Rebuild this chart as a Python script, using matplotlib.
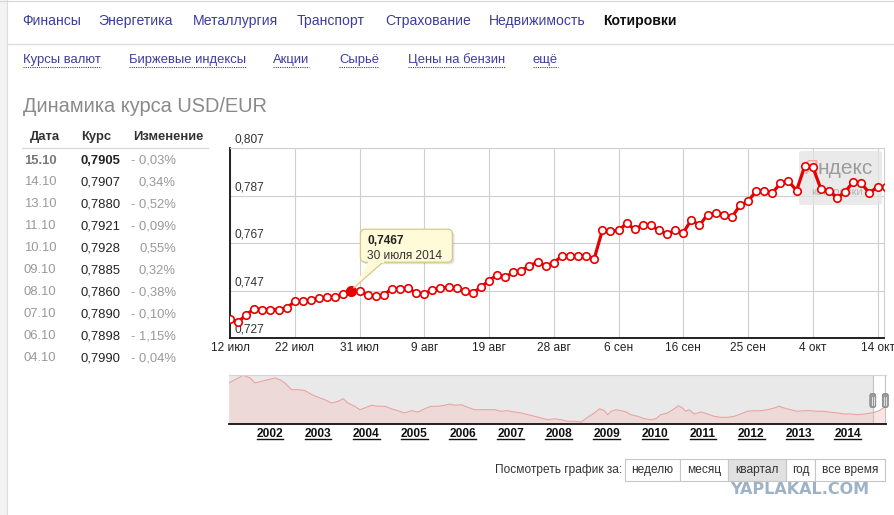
import matplotlib
matplotlib.use("Agg")
import matplotlib.pyplot as plt
import matplotlib.transforms as mtransforms
from matplotlib.patches import FancyBboxPatch, Rectangle, Polygon
from matplotlib.lines import Line2D
import numpy as np
import pandas as pd

plt.rcParams['font.family'] = ['Liberation Sans', 'DejaVu Sans']

# ---- data ----
# USD/EUR, one point per day Mon-Sat, 12 Jul 2014 .. 15 Oct 2014
usd_eur = [
    0.7351, 0.7337, 0.7368, 0.7393, 0.7390, 0.7390, 0.7390, 0.7396,
    0.7424, 0.7424, 0.7428, 0.7439, 0.7442, 0.7442, 0.7456, 0.7467,
    0.7466, 0.7449, 0.7445, 0.7452, 0.7477, 0.7477, 0.7480, 0.7459,
    0.7456, 0.7473, 0.7480, 0.7484, 0.7480, 0.7466, 0.7460, 0.7484,
    0.7512, 0.7536, 0.7526, 0.7547, 0.7554, 0.7575, 0.7589, 0.7575,
    0.7587, 0.7615, 0.7615, 0.7615, 0.7615, 0.7604, 0.7723, 0.7719,
    0.7723, 0.7753, 0.7727, 0.7747, 0.7744, 0.7723, 0.7709, 0.7723,
    0.7713, 0.7768, 0.7744, 0.7790, 0.7796, 0.7790, 0.7779, 0.7828,
    0.7846, 0.7888, 0.7888, 0.7880, 0.7922, 0.7930, 0.7891, 0.7993,
    0.7990, 0.7898, 0.7890, 0.7860, 0.7885, 0.7928, 0.7921, 0.7880,
    0.7907, 0.7905,
]
dates = pd.bdate_range('2014-07-12', '2014-10-15', freq='C',
                       weekmask='Mon Tue Wed Thu Fri Sat')
x_tick_labels = ['12 июл', '22 июл', '31 июл', '9 авг', '19 авг', '28 авг',
                 '6 сен', '16 сен', '25 сен', '4 окт', '14 окт']
y_ticks = [0.727, 0.747, 0.767, 0.787, 0.807]
highlight = 15  # 30 июля 2014

months_gen = ['января', 'февраля', 'марта', 'апреля', 'мая', 'июня', 'июля',
              'августа', 'сентября', 'октября', 'ноября', 'декабря']

# long history for the navigator strip
nav_years = [
    2001.15, 2001.27, 2001.45, 2001.59, 2001.69, 2001.83, 2001.97, 2002.10,
    2002.21, 2002.31, 2002.45, 2002.59, 2002.73, 2002.87, 2003.00, 2003.14,
    2003.28, 2003.42, 2003.52, 2003.62, 2003.76, 2003.87, 2003.97, 2004.11,
    2004.25, 2004.39, 2004.52, 2004.66, 2004.80, 2004.94, 2005.08, 2005.22,
    2005.35, 2005.49, 2005.63, 2005.73, 2005.84, 2005.98, 2006.11, 2006.25,
    2006.39, 2006.53, 2006.67, 2006.80, 2006.94, 2007.08, 2007.22, 2007.36,
    2007.50, 2007.63, 2007.77, 2007.91, 2008.05, 2008.19, 2008.33, 2008.47,
    2008.60, 2008.74, 2008.85, 2008.95, 2009.02, 2009.09, 2009.19, 2009.30,
    2009.40, 2009.50, 2009.64, 2009.78, 2009.92, 2010.02, 2010.12, 2010.26,
    2010.37, 2010.49, 2010.57, 2010.64, 2010.71, 2010.82, 2010.96, 2011.09,
    2011.23, 2011.37, 2011.51, 2011.65, 2011.78, 2011.92, 2012.06, 2012.20,
    2012.34, 2012.48, 2012.58, 2012.68, 2012.82, 2012.96, 2013.10, 2013.24,
    2013.37, 2013.51, 2013.65, 2013.79, 2013.93, 2014.07, 2014.21, 2014.35,
    2014.49, 2014.56, 2014.66, 2014.77,
]
nav_rates = [
    1.094, 1.133, 1.186, 1.154, 1.094, 1.114, 1.133, 1.154,
    1.133, 1.094, 1.014, 1.014, 1.002, 0.954, 0.923, 0.894,
    0.854, 0.875, 0.906, 0.854, 0.815, 0.774, 0.795, 0.827,
    0.815, 0.815, 0.786, 0.762, 0.735, 0.762, 0.747, 0.786,
    0.815, 0.815, 0.827, 0.842, 0.827, 0.834, 0.803, 0.774,
    0.774, 0.774, 0.774, 0.755, 0.762, 0.747, 0.735, 0.714,
    0.695, 0.675, 0.654, 0.665, 0.654, 0.635, 0.635, 0.627,
    0.683, 0.735, 0.786, 0.762, 0.714, 0.755, 0.774, 0.762,
    0.747, 0.714, 0.695, 0.666, 0.654, 0.666, 0.714, 0.735,
    0.774, 0.822, 0.795, 0.755, 0.774, 0.723, 0.747, 0.723,
    0.695, 0.683, 0.683, 0.695, 0.723, 0.755, 0.762, 0.762,
    0.774, 0.795, 0.815, 0.795, 0.774, 0.755, 0.762, 0.762,
    0.755, 0.755, 0.743, 0.735, 0.723, 0.723, 0.714, 0.723,
    0.735, 0.743, 0.762, 0.803,
]
nav_year_labels = list(range(2002, 2015))
win_start, win_end = 2014.526, 2014.786

nav_top = ['Финансы', 'Энергетика', 'Металлургия', 'Транспорт', 'Страхование',
           'Недвижимость', 'Котировки']
nav_sub = ['Курсы валют', 'Биржевые индексы', 'Акции', 'Сырьё',
           'Цены на бензин', 'ещё']
periods = ['неделю', 'месяц', 'квартал', 'год', 'все время']
active_period = 'квартал'

# ---- page layout (pixels, y from top) ----
W, H = 895, 515
fig = plt.figure(figsize=(W / 100, H / 100), dpi=100, facecolor='white')


def fx(x):
    return x / W


def fy(y):
    return 1 - y / H


def ptext(x, y, s, **kw):
    kw.setdefault('va', 'center')
    return fig.text(fx(x), fy(y), s, **kw)


def pline(x0, x1, y0, y1, **kw):
    fig.add_artist(Line2D([fx(x0), fx(x1)], [fy(y0), fy(y1)],
                          transform=fig.transFigure, **kw))


LINK = '#3d3d9e'

# left grey strip and top border
fig.add_artist(Rectangle((0, 0), fx(7), 1, transform=fig.transFigure,
                         fc='#f3f3f3', ec='none'))
pline(7, 7, 0, H, color='#dedede', lw=0.8)
pline(0, W, 0.5, 0.5, color='#d6d6d6', lw=0.8)

# top menu
top_x = [22, 98, 193, 297, 385, 489, 603]
for name, x in zip(nav_top, top_x):
    if name == 'Котировки':
        ptext(x, 21, name, fontsize=10.1, color='#111', fontweight='bold')
    else:
        ptext(x, 21, name, fontsize=10.1, color=LINK)
pline(7, W, 43.5, 43.5, color='#dcdcdc', lw=0.9)

sub_x = [23, 129, 273, 339, 408, 533]
sub_texts = [ptext(x, 59.5, s, fontsize=9.4, color=LINK)
             for s, x in zip(nav_sub, sub_x)]

ptext(23, 106.5, 'Динамика курса USD/EUR', fontsize=14.4, color='#8a8a8a')

# quotes table (last ten days, newest first)
ptext(30, 137, 'Дата', fontsize=9.4, color='#333', fontweight='bold')
ptext(81, 137, 'Курс', fontsize=9.4, color='#333', fontweight='bold')
ptext(133, 137, 'Изменение', fontsize=9.4, color='#333', fontweight='bold')
pline(22, 208, 148, 148, color='#d9d9d9', lw=0.9)
for i in range(10):
    k = len(usd_eur) - 1 - i
    rate, prev = usd_eur[k], usd_eur[k - 1]
    ch = (rate / prev - 1) * 100
    ch_txt = ('- ' if ch < 0 else '') + f'{abs(ch):.2f}%'.replace('.', ',')
    y = 160.5 + i * 21.95
    first = i == 0
    ptext(24, y, dates[k].strftime('%d.%m'), fontsize=9.4,
          color='#777' if first else '#9a9a9a',
          fontweight='bold' if first else 'normal')
    ptext(81, y, f'{rate:.4f}'.replace('.', ','), fontsize=9.4, color='#222',
          fontweight='bold' if first else 'normal')
    ptext(176, y, ch_txt, fontsize=9.4, color='#999', ha='right')

# ---- main chart ----
RED = '#e60000'
ax = fig.add_axes([fx(230), fy(338), 654 / W, 190 / H])
idx = np.arange(len(usd_eur))
ax.set_xlim(0, 80.8)
ax.set_ylim(y_ticks[0], y_ticks[-1])
ax.set_xticks(idx[::8][:len(x_tick_labels)], x_tick_labels)
ax.set_yticks(y_ticks, [''] * len(y_ticks))
ax.grid(color='#cfcfcf', lw=0.8)
ax.set_axisbelow(True)
ax.tick_params(length=0, labelsize=8.6, labelcolor='#222', pad=3)
for side in ('left', 'bottom'):
    ax.spines[side].set_color('#111')
    ax.spines[side].set_linewidth(1.3)
for side in ('top', 'right'):
    ax.spines[side].set_color('#cfcfcf')
    ax.spines[side].set_linewidth(0.8)

for v in y_ticks:
    ax.annotate(f'{v:.3f}'.replace('.', ','), xy=(0, v),
                xycoords=ax.get_yaxis_transform(), xytext=(5, 2),
                textcoords='offset pixels', ha='left', va='bottom',
                fontsize=8.6, color='#333', annotation_clip=False)

# watermark box of the quote service
ax.add_patch(FancyBboxPatch((fx(799), fy(205)), 83 / W, 54 / H,
                            boxstyle='round,pad=0,rounding_size=0.004',
                            transform=fig.transFigure, fc='#e4e4e4',
                            ec='none', alpha=0.75, zorder=1.5))
ax.text(fx(803), fy(168), 'Я', transform=fig.transFigure, fontsize=15,
        color='#f3a3a3', va='center', zorder=1.6)
ax.text(fx(818), fy(169), 'ндекс', transform=fig.transFigure, fontsize=15,
        color='#9c9c9c', va='center', zorder=1.6)
ax.text(fx(811), fy(192), 'котировки', transform=fig.transFigure,
        fontsize=8, color='#b3b3b3', va='center', zorder=1.6)

ax.plot(idx, usd_eur, color=RED, lw=2.3, marker='o', ms=5.4, mfc='white',
        mec=RED, mew=1.2, zorder=3, solid_joinstyle='round')
ax.plot(idx[highlight], usd_eur[highlight], 'o', color=RED, ms=7, zorder=4)

# tooltip
ident = mtransforms.IdentityTransform()
px, py = ax.transData.transform((idx[highlight], usd_eur[highlight]))
TIP_FC, TIP_EC = '#fffbd8', '#d4c88e'
fig.add_artist(FancyBboxPatch((px + 11, py + 27), 92, 33,
                              boxstyle='round,pad=0,rounding_size=5',
                              transform=ident, fc='#000', ec='none',
                              alpha=0.12))
fig.add_artist(FancyBboxPatch((px + 9, py + 29), 92, 33,
                              boxstyle='round,pad=0,rounding_size=5',
                              transform=ident, fc=TIP_FC, ec=TIP_EC, lw=0.9))
fig.add_artist(Polygon([(px + 17, py + 29.5), (px + 32, py + 29.5),
                        (px + 2, py + 3)], closed=False, transform=ident,
                       fc=TIP_FC, ec=TIP_EC, lw=0.9))
fig.add_artist(Line2D([px + 17.6, px + 31.3], [py + 29.5, py + 29.5],
                      transform=ident, color=TIP_FC, lw=1.4))
d = dates[highlight]
fig.text(px + 16, py + 50, f'{usd_eur[highlight]:.4f}'.replace('.', ','),
         transform=ident, fontsize=8.6, fontweight='bold', color='#222',
         va='center')
fig.text(px + 16, py + 35, f'{d.day} {months_gen[d.month - 1]} {d.year}',
         transform=ident, fontsize=8.6, color='#333', va='center')

# ---- navigator strip ----
nav = fig.add_axes([fx(229), fy(424), 657 / W, 49.3 / H])
nav_lo, nav_hi = 0.603, 1.193
nav.set_xlim(2001.15, 2014.80)
nav.set_ylim(nav_lo, nav_hi)
nav.axvspan(2001.15, win_start, color='#e9e9e9', lw=0, zorder=0)
nav.fill_between(nav_years, nav_lo, nav_rates, color=(0.96, 0.78, 0.78),
                 alpha=0.45, lw=0, zorder=1)
nav.plot(nav_years, nav_rates, color='#e9a3a3', lw=0.8, zorder=2)
nav.axvline(win_start, color='#c2c2c2', lw=0.8, zorder=2)
nav.axvline(win_end, color='#c2c2c2', lw=0.8, zorder=2)
nav.set_yticks([])
nav.set_xticks(nav_year_labels, [str(y) for y in nav_year_labels])
nav.tick_params(length=0, labelsize=8.6, labelcolor='#111', pad=3.2)
for lbl in nav.get_xticklabels():
    lbl.set_fontweight('bold')
nav.spines['left'].set_visible(False)
nav.spines['right'].set_visible(False)
nav.spines['top'].set_color('#d4d4d4')
nav.spines['top'].set_linewidth(0.8)
nav.spines['bottom'].set_color('#111')
nav.spines['bottom'].set_linewidth(1.3)

hy = H - 400.5
for xw in (win_start, win_end):
    hx, _ = nav.transData.transform((xw, nav_lo))
    fig.add_artist(FancyBboxPatch((hx - 3, hy - 7), 6, 14,
                                  boxstyle='round,pad=0,rounding_size=2',
                                  transform=ident, fc='#999', ec='#7d7d7d',
                                  lw=0.5))
    for off in (-1, 1):
        fig.add_artist(Line2D([hx + off, hx + off], [hy - 4, hy + 4],
                              transform=ident, color='#eee', lw=0.6))

# period buttons
ptext(622, 470, 'Посмотреть график за:', fontsize=8.6, color='#333',
      ha='right')
edges = [625, 680, 728, 786, 815, 885]
for name, x0, x1 in zip(periods, edges[:-1], edges[1:]):
    fc = '#e1e1e1' if name == active_period else 'white'
    fig.add_artist(Rectangle((fx(x0), fy(481)), (x1 - x0) / W, 22 / H,
                             transform=fig.transFigure, fc=fc, ec='#c6c6c6',
                             lw=0.8))
    ptext((x0 + x1) / 2, 470, name, fontsize=8.6, color='#333', ha='center')

ptext(800, 489, 'YAPLAKAL.COM', fontsize=11.5, color='#9db2c6',
      fontweight='bold', ha='center', family='DejaVu Sans')

# underlines need the rendered text extents
fig.canvas.draw()
renderer = fig.canvas.get_renderer()
for t in sub_texts:
    bb = t.get_window_extent(renderer)
    fig.add_artist(Line2D([bb.x0, bb.x1], [H - 66.5, H - 66.5],
                          transform=ident, color=LINK, lw=0.8,
                          linestyle=(0, (1, 1))))
for lbl in nav.get_xticklabels():
    bb = lbl.get_window_extent(renderer)
    fig.add_artist(Line2D([bb.x0, bb.x1], [bb.y0 + 1.2, bb.y0 + 1.2],
                          transform=ident, color='#111', lw=1.0))

fig.savefig('out.png', dpi=100, facecolor='white')
